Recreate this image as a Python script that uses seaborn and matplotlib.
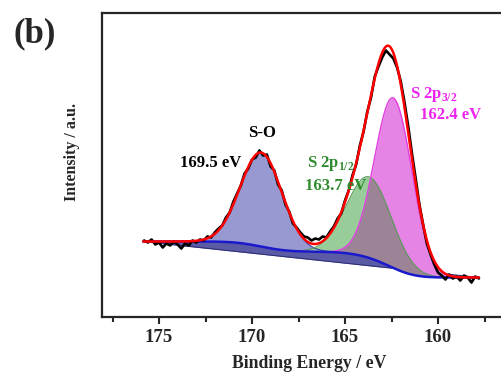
import math
import numpy as np
import pandas as pd
import matplotlib
matplotlib.use("Agg")
import matplotlib.pyplot as plt
import seaborn as sns

# ---- fitted peak parameters ----
peak_centers = [169.5, 163.7, 162.4]     # S-O, S 2p1/2, S 2p3/2
peak_heights = [94, 81, 170]
peak_sigmas = [1.12, 1.2, 1.0]
bg_ends = [175.85, 157.8]                # energy range of spectrum
bg_levels = [75, 39]                     # background level at both ends

exp_start, exp_stop, exp_step = 175.8, 157.8, -0.2
exp_counts = [76, 74, 77, 72, 74, 69, 73, 71, 75, 72,
              68, 73, 71, 76, 74, 77, 76, 80, 79, 84,
              88, 91, 99, 104, 115, 123, 131, 143, 148, 157,
              159, 166, 161, 162, 150, 146, 132, 126, 112, 105,
              93, 89, 84, 80, 79, 76, 78, 77, 80, 79,
              85, 90, 98, 103, 116, 126, 141, 152, 171, 185,
              205, 219, 240, 250, 259, 266, 262, 258, 249, 235,
              214, 190, 163, 138, 112, 92, 73, 62, 52, 44,
              41, 37, 42, 38, 40, 36, 41, 39, 34, 40, 38]

sns.set_style("ticks")
plt.rcParams['font.family'] = ['Liberation Serif', 'DejaVu Serif']
plt.rcParams['mathtext.fontset'] = 'custom'
plt.rcParams['mathtext.rm'] = 'Liberation Serif:bold'

W, H = 502, 373
fig = plt.figure(figsize=(W/100, H/100), dpi=100)
L, R, T, B = 102, 505, 13, 316.5
ax = fig.add_axes([L/W, 1-B/H, (R-L)/W, (B-T)/H])

e = np.linspace(bg_ends[0], bg_ends[1], 600)
erf = np.vectorize(math.erf)
comps = []
areas = []
cum = np.zeros_like(e)
for c, h, s in zip(peak_centers, peak_heights, peak_sigmas):
    comps.append(h*np.exp(-(e-c)**2/(2*s*s)))
    a = h*s
    areas.append(a)
    cum += a*0.5*(1+erf((e-c)/(s*np.sqrt(2))))
shirley = bg_levels[1] + (bg_levels[0]-bg_levels[1])*cum/sum(areas)
linear = np.interp(e, bg_ends[::-1], bg_levels[::-1])
env = shirley + sum(comps)

ax.fill_between(e, linear, shirley, color='#5A5AA5', lw=0, zorder=1)
ax.plot(e, linear, color='#30307a', lw=0.8, zorder=2)
ax.fill_between(e, shirley, shirley+comps[0], color='#9999D2', lw=0, zorder=2)
ax.plot(e, shirley+comps[0], color='#3a3aa0', lw=0.8, zorder=3)
ax.fill_between(e, shirley, shirley+comps[1], color='#98CC98', lw=0, zorder=2)
ax.plot(e, shirley+comps[1], color='#5a9a5a', lw=0.8, zorder=3)
ax.fill_between(e, shirley, shirley+comps[2], color='#E684E6', lw=0, zorder=2)
ax.fill_between(e, shirley, shirley+np.minimum(comps[1], comps[2]), color='#9C8496', lw=0, zorder=2.5)
ax.plot(e, shirley+comps[2], color='#E040E0', lw=1.0, zorder=3)
ax.plot(e, shirley, color='#1A1ACC', lw=1.8, zorder=4)

egrid = np.round(np.arange(exp_start, exp_stop - 0.01, exp_step), 2)
df = pd.DataFrame({'x': egrid[:len(exp_counts)], 'y': exp_counts})
sns.lineplot(data=df, x='x', y='y', ax=ax, color='black', lw=1.9, zorder=5)
sns.lineplot(x=e, y=env, ax=ax, color='red', lw=1.8, zorder=6)

ax.set_xlim(175+(159-L)/18.6, 160-(R-438)/18.6)
ax.set_ylim(0, B-T)
ax.set_xticks([175, 170, 165, 160])
ax.set_xticks([177.5, 172.5, 167.5, 162.5, 157.5], minor=True)
ax.set_yticks([])
ax.set_xlabel('')
ax.set_ylabel('')
for sp in ax.spines.values():
    sp.set_linewidth(1.6)
ax.tick_params(axis='x', which='major', direction='out', length=5, width=1.5,
               labelsize=13.5, pad=4)
ax.tick_params(axis='x', which='minor', direction='out', length=3.5, width=1.5)
for lab in ax.get_xticklabels():
    lab.set_fontweight('bold')

def ftext(x, y, s, **kw):
    fig.text(x/W, 1-y/H, s, ha='center', va='center', fontweight='bold', **kw)

ftext(309, 364, 'Binding Energy / eV', fontsize=12.8)
ftext(72, 152, 'Intensity / a.u.', fontsize=11.5, rotation=90)
ftext(35, 34, '(b)', fontsize=25)
ftext(262, 133, 'S-O', fontsize=12, color='black')
ftext(211, 163, '169.5 eV', fontsize=12, color='black')
ftext(331, 163, 'S 2p$_{1/2}$', fontsize=12, color='#2E8B2E')
ftext(336, 186, '163.7 eV', fontsize=12, color='#2E8B2E')
ftext(434, 94, 'S 2p$_{3/2}$', fontsize=12, color='#EE22EE')
ftext(451, 115, '162.4 eV', fontsize=12, color='#EE22EE')

fig.savefig('out.png', dpi=100)
